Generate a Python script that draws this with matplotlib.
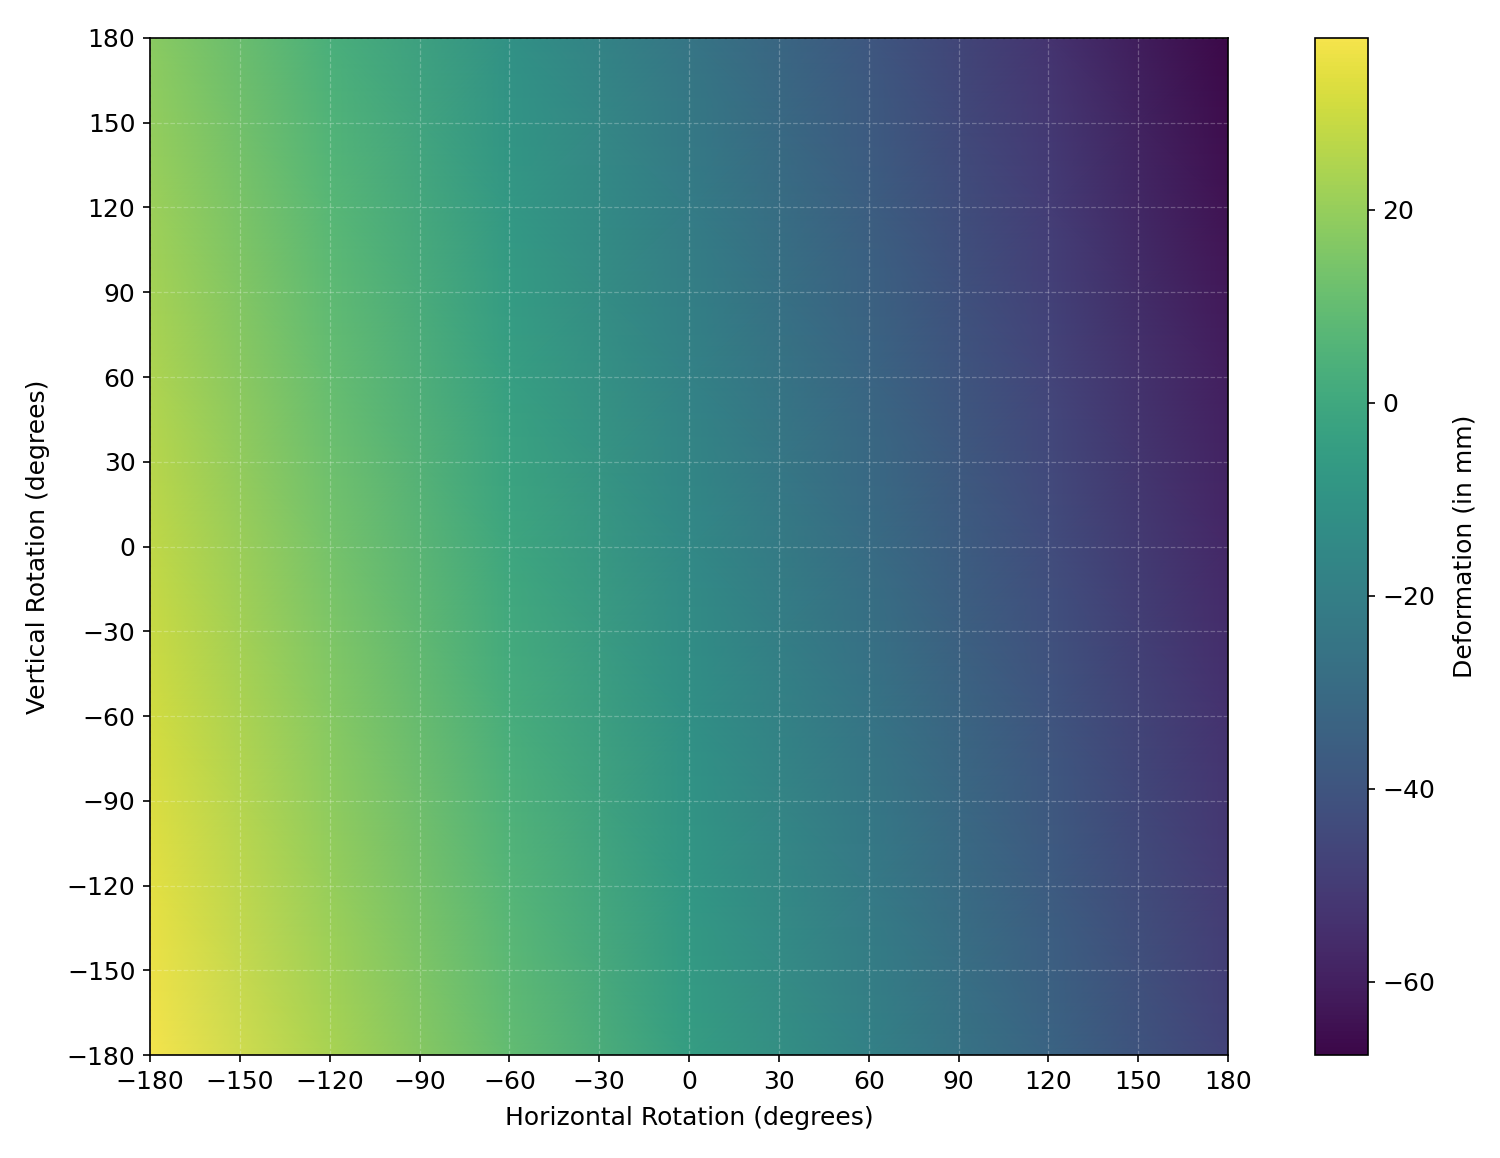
import numpy as np
import matplotlib
matplotlib.use('Agg')
import matplotlib.pyplot as plt
from matplotlib.colors import ListedColormap

# rotation grid (degrees), sampled every 60 deg
horizontal = [-180, -120, -60, 0, 60, 120, 180]
vertical = [-180, -120, -60, 0, 60, 120, 180]

# deformation in mm, one list per vertical rotation (bottom to top)
defo_v_m180 = [37.8, 23.6, 9.5, -4.7, -18.9, -33.0, -47.2]
defo_v_m120 = [34.5, 20.3, 6.1, -8.0, -22.2, -36.4, -50.5]
defo_v_m60 = [31.1, 17.0, 2.8, -11.4, -25.5, -39.7, -53.9]
defo_v_0 = [27.8, 13.6, -0.5, -14.7, -28.9, -43.0, -57.2]
defo_v_60 = [24.5, 10.3, -3.9, -18.0, -32.2, -46.4, -60.5]
defo_v_120 = [21.1, 7.0, -7.2, -21.4, -35.5, -49.7, -63.9]
defo_v_180 = [17.8, 3.6, -10.5, -24.7, -38.9, -53.0, -67.6]

ticks = [-180, -150, -120, -90, -60, -30, 0, 30, 60, 90, 120, 150, 180]
cbar_ticks = [20, 0, -20, -40, -60]

Z = np.array([defo_v_m180, defo_v_m120, defo_v_m60, defo_v_0,
              defo_v_60, defo_v_120, defo_v_180])
H, V = np.meshgrid(horizontal, vertical)

# slightly muted viridis, the reference looks a bit washed out
base = plt.get_cmap('viridis')(np.linspace(0, 1, 256))
lum = (0.299 * base[:, 0] + 0.587 * base[:, 1] + 0.114 * base[:, 2])[:, None]
base[:, :3] = lum + 0.78 * (base[:, :3] - lum)
cmap = ListedColormap(base)

plt.rcParams['font.size'] = 12

fig = plt.figure(figsize=(10, 7.72), dpi=150)
ax = fig.add_axes([0.1, 0.0889, 0.7187, 0.8783])
cax = fig.add_axes([0.8767, 0.0889, 0.0353, 0.8783])

mesh = ax.pcolormesh(H, V, Z, cmap=cmap, shading='gouraud',
                     vmin=Z.min(), vmax=Z.max())
ax.set_xlim(-180, 180)
ax.set_ylim(-180, 180)
ax.set_xticks(ticks)
ax.set_yticks(ticks)
ax.set_xlabel('Horizontal Rotation (degrees)', labelpad=6)
ax.set_ylabel('Vertical Rotation (degrees)', labelpad=8)
ax.grid(True, color='white', linestyle='--', linewidth=0.6, alpha=0.25)

cb = fig.colorbar(mesh, cax=cax)
cb.set_ticks(cbar_ticks)
cb.set_label('Deformation (in mm)', labelpad=8)

fig.savefig('out.png', dpi=150)
